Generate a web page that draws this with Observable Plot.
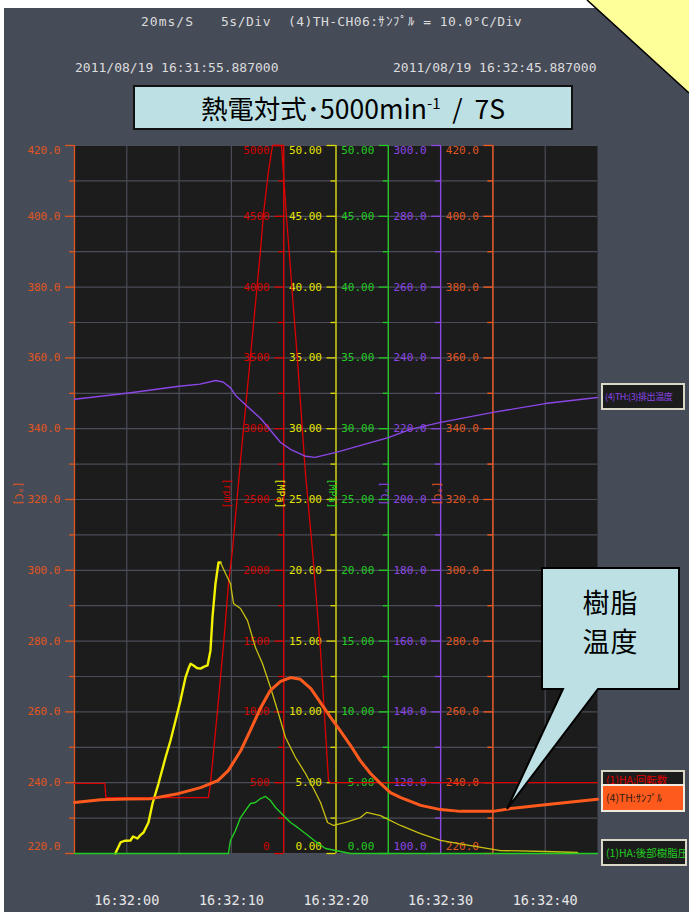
<!DOCTYPE html>
<html><head><meta charset="utf-8">
<script src="https://cdn.jsdelivr.net/npm/d3@7"></script>
<script src="https://cdn.jsdelivr.net/npm/@observablehq/plot@0.6"></script>
<style>
html,body{margin:0;padding:0;background:#fff;}
#page{position:relative;width:689px;height:912px;overflow:hidden;background:#fff;}
#slate{position:absolute;left:4px;top:8px;width:685px;height:904px;background:#464b58;}
.hdr{position:absolute;font-family:"DejaVu Sans Mono",monospace;font-size:13px;color:#dcdcdc;white-space:pre;line-height:16px;}
#title{position:absolute;left:133px;top:85px;width:436px;height:41px;background:#bde0e4;border:2px solid #111;
  font-family:"Noto Sans CJK JP","Noto Sans",sans-serif;font-size:26.5px;color:#000;text-align:center;line-height:41px;white-space:nowrap;}
#title sup{font-size:15px;vertical-align:0;position:relative;top:-10px;}
.leg{position:absolute;box-sizing:border-box;border:2px solid #d9d8c6;background:#1c1c1c;overflow:hidden;white-space:nowrap;
  font-family:"Noto Sans CJK JP",sans-serif;font-size:10.5px;padding-left:3px;}
.callout{position:absolute;left:542px;width:137px;text-align:center;font-family:"Noto Sans CJK JP",sans-serif;
  font-size:27px;line-height:39px;height:39px;color:#000;letter-spacing:1px;}
svg.layer{position:absolute;left:0;top:0;}
</style></head>
<body><div id="page"><div id="slate"></div></div>
<script>
// ---------- data ----------
const timeTicks = [5, 15, 25, 35, 45];
const timeLabels = ["16:32:00", "16:32:10", "16:32:20", "16:32:30", "16:32:40"];
const tempTicks = [220, 240, 260, 280, 300, 320, 340, 360, 380, 400, 420];
const tempMinor = [230, 250, 270, 290, 310, 330, 350, 370, 390, 410];
const rpmTicks = [0, 500, 1000, 1500, 2000, 2500, 3000, 3500, 4000, 4500, 5000];
const rpmMinor = [250, 750, 1250, 1750, 2250, 2750, 3250, 3750, 4250, 4750];
const mpaTicks = [0, 5, 10, 15, 20, 25, 30, 35, 40, 45, 50];
const mpaMinor = [2.5, 7.5, 12.5, 17.5, 22.5, 27.5, 32.5, 37.5, 42.5, 47.5];
const exTicks = [100, 120, 140, 160, 180, 200, 220, 240, 260, 280, 300];
const exMinor = [110, 130, 150, 170, 190, 210, 230, 250, 270, 290];

// [seconds from 16:31:55.887, value]
const rpm = [[0,495],[2.9,495],[3.0,395],[12.8,395],[13.0,494],[13.67,1010],[14.34,1554],[14.72,1907],[15.1,2140],[15.87,2775],[16.83,3517],[17.78,4258],[18.07,4520],[18.55,4823],[18.93,5000],[19.79,5000],[20.27,4491],[21.32,3481],[22.08,2684],[22.75,2140],[23.52,1434],[24.28,516],[24.5,500],[50,500]];
const resinPressure = [[3.9,0],[4.4,0.78],[4.8,0.9],[5.35,0.92],[5.6,1.2],[6.02,1.06],[6.3,1.3],[6.6,1.48],[7.07,2.19],[7.46,3.53],[8.03,4.94],[8.7,6.78],[9.18,7.98],[9.66,9.39],[10.13,10.81],[10.61,12.43],[10.9,13.06],[11.1,13.4],[11.38,13.28],[11.7,13.1],[12.05,13.06],[12.4,13.2],[12.72,13.28],[13.0,14.34],[13.19,16.67],[13.48,19.07],[13.77,20.55],[13.96,20.55],[14.44,19.77],[14.91,19.07],[15.2,17.66],[15.87,17.3],[16.54,16.45],[17.3,14.55],[17.97,13.42],[18.74,11.72],[19.5,9.89],[20.17,8.19],[21.13,6.78],[22.08,5.65],[22.85,4.59],[23.52,3.6],[24.19,2.19],[24.76,1.98],[25.91,2.19],[27.34,2.54],[27.92,2.9],[29.25,2.68],[31.17,1.98],[33.08,1.41],[34.99,0.92],[37.86,0.56],[40.73,0.21],[45.03,0.14],[48.09,0.07]];
const rearPressure = [[0,0],[14.72,0],[14.91,0.92],[15.39,1.62],[15.87,2.54],[16.35,3.04],[16.83,3.53],[17.3,3.6],[17.78,3.88],[18.26,4.03],[18.74,3.74],[19.22,3.25],[19.98,2.68],[20.65,2.19],[21.32,1.84],[22.08,1.41],[23.04,0.85],[24.0,0.35],[24.95,0.21],[25.91,0.07],[26.39,0],[50,0]];
const exhaustTemp = [[0,228.3],[5,230.0],[10,232.0],[12,232.6],[13.5,233.6],[14.2,233.2],[14.9,231.6],[15.4,229.4],[16.4,226.6],[17.8,222.9],[19.7,216.1],[20.7,214.1],[22.1,212.2],[23,211.9],[25,213.3],[30,217.5],[32.1,219.8],[35,221.8],[40,224.6],[45,227.1],[50,228.8]];
const resinTemp = [[0,234.4],[2.5,235.2],[5,235.4],[7.3,235.5],[9.9,236.9],[12.05,238.6],[13.7,240.6],[14.7,243.4],[15.9,249.1],[16.8,254.7],[17.8,261.2],[18.7,266.0],[19.7,268.6],[20.65,269.7],[21.6,269.2],[22.6,266.6],[23.5,262.7],[24.5,258.4],[25.4,254.7],[26.4,250.5],[27.3,246.3],[28.3,242.6],[29.25,239.8],[30.2,237.2],[31.2,235.8],[33.1,233.6],[35,232.4],[36.9,231.9],[40,231.9],[41.7,232.7],[45,233.8],[50,235.3]];

// ---------- styling ----------
const GRID = "#4a4d57";
const OR_AX = "#e0561e", OR_LINE = "#ff5a1e";
const RED = "#e00000", RED_TX = "#d40000";
const YEL = "#dede00", YEL_TX = "#e4e400";
const GRN = "#22cc22";
const PUR = "#8c46e6";

const page = document.getElementById("page");

function layer(yDomain, marks) {
  const svg = Plot.plot({
    width: 689, height: 912,
    marginTop: 145, marginRight: 92, marginBottom: 59, marginLeft: 74,
    x: {domain: [0, 50], axis: null},
    y: {domain: yDomain, axis: null},
    style: {background: "transparent", overflow: "visible", fontFamily: "DejaVu Sans Mono", fontSize: "11px"},
    marks
  });
  svg.classList.add("layer");
  page.appendChild(svg);
}

function axisMarks(t, majors, minors, fmt, color, textColor, unit) {
  const mid = majors.slice(1, -1);
  const common = {x: () => t, y: d => d, text: fmt, textAnchor: "end", dx: -14, fill: textColor};
  return [
    Plot.ruleX([t], {stroke: color, strokeWidth: 1.3}),
    Plot.ruleY(majors, {y: d => d, x1: t - 0.86, x2: t, stroke: color, strokeWidth: 1.3}),
    Plot.ruleY(minors, {y: d => d, x1: t - 0.48, x2: t, stroke: color, strokeWidth: 1.3}),
    Plot.text(mid, common),
    Plot.text([majors[majors.length - 1]], {...common, lineAnchor: "top", dy: 1}),
    Plot.text([majors[0]], {...common, lineAnchor: "bottom", dy: -4}),
    Plot.text([unit], {x: () => t, text: d => d, rotate: 90, dx: -56, dy: -6, fill: textColor, fontSize: 10})
  ];
}

const line = (data, opts) => Plot.line(data, {x: d => d[0], y: d => d[1], strokeLinejoin: "round", ...opts});

// base layer: background, grid, left temperature axis, time labels
layer([220, 420], [
  Plot.frame({fill: "#1c1c1c", stroke: null}),
  Plot.ruleY(d3.range(220, 421, 10), {y: d => d, stroke: GRID, strokeWidth: 1.2}),
  Plot.ruleX(d3.range(5, 50, 5), {x: d => d, stroke: GRID, strokeWidth: 1.2}),
  ...axisMarks(0, tempTicks, tempMinor, d3.format(".1f"), OR_AX, OR_AX, "[°C]"),
  Plot.text(timeTicks, {x: d => d, text: (d, i) => timeLabels[i], frameAnchor: "bottom", dy: 51,
    fill: "#e6e6e6", fontSize: 13.5}),
]);

// rpm layer
layer([0, 5000], [
  ...axisMarks(20, rpmTicks, rpmMinor, d3.format("d"), RED, RED_TX, "[rpm]"),
]);
// resin pressure (yellow)
layer([0, 50], [
  ...axisMarks(25, mpaTicks, mpaMinor, d3.format(".2f"), YEL, YEL_TX, "[MPa]"),
]);
// rear pressure (green)
layer([0, 50], [
  ...axisMarks(30, mpaTicks, mpaMinor, d3.format(".2f"), GRN, GRN, "[MPa]"),
]);
// exhaust temp (purple)
layer([100, 300], [
  ...axisMarks(35, exTicks, exMinor, d3.format(".1f"), PUR, PUR, "[°C]"),
]);
// inner orange axis
layer([220, 420], [
  ...axisMarks(40, tempTicks, tempMinor, d3.format(".1f"), OR_LINE, OR_AX, "[°C]"),
]);

// series
layer([0, 5000], [line(rpm, {stroke: "#dd0000", strokeWidth: 1.3})]);
layer([0, 50], [
  line(resinPressure, {filter: d => d[0] <= 13.96, stroke: "#f2f200", strokeWidth: 2.4}),
  line(resinPressure, {filter: d => d[0] >= 13.96, stroke: "#c8c010", strokeWidth: 1.3}),
]);
layer([0, 50], [line(rearPressure, {stroke: GRN, strokeWidth: 1.4})]);
layer([100, 300], [line(exhaustTemp, {stroke: PUR, strokeWidth: 1.4})]);
layer([220, 420], [line(resinTemp, {stroke: OR_LINE, strokeWidth: 3})]);

// ---------- header & annotations ----------
function addDiv(cls, style, html) {
  const d = document.createElement("div");
  if (cls) d.className = cls;
  Object.assign(d.style, style);
  d.innerHTML = html;
  page.appendChild(d);
  return d;
}
addDiv("hdr", {left: "141px", top: "14px", letterSpacing: "1px"}, "20ms/S");
addDiv("hdr", {left: "221px", top: "14px", letterSpacing: "0.5px"}, "5s/Div");
addDiv("hdr", {left: "288px", top: "14px", letterSpacing: "0.4px"}, "(4)TH-CH06:ｻﾝﾌﾟﾙ = 10.0°C/Div");
addDiv("hdr", {left: "75px", top: "60px"}, "2011/08/19 16:31:55.887000");
addDiv("hdr", {left: "393px", top: "60px"}, "2011/08/19 16:32:45.887000");
const title = document.createElement("div");
title.id = "title";
title.innerHTML = "熱電対式･5000min<sup>-1</sup>&nbsp;&nbsp;/&nbsp;&nbsp;7S";
page.appendChild(title);

// legend tags at right
addDiv("leg", {left: "601px", top: "383px", width: "84px", height: "27px", color: PUR, lineHeight: "23px",
  fontSize: "9px", letterSpacing: "-0.4px", paddingLeft: "2px"}, "(4)TH:(3)排出温度");
addDiv("leg", {left: "601px", top: "770px", width: "84px", height: "20px", color: "#e00000", lineHeight: "16px"}, "(1)HA:回転数");
addDiv("leg", {left: "601px", top: "784px", width: "84px", height: "28px", color: "#2a1a10", lineHeight: "24px",
  background: "#ff5a1e", borderColor: "#ecebe0"}, "(4)TH:ｻﾝﾌﾟﾙ");
addDiv("leg", {left: "601px", top: "839px", width: "86px", height: "27px", color: GRN, lineHeight: "23px"}, "(1)HA:後部樹脂圧");

// decorative shapes (note corner, callout)
const ns = "http://www.w3.org/2000/svg";
const deco = document.createElementNS(ns, "svg");
deco.setAttribute("width", 689); deco.setAttribute("height", 912);
deco.setAttribute("class", "layer");
deco.innerHTML = `
  <polygon points="587,0 689,0 689,93" fill="#ffff9a"/>
  <line x1="587" y1="0" x2="689" y2="93" stroke="#000" stroke-width="1.6"/>
  <path d="M542,568 H679 V689 H598 L507,809 L563,689 H542 Z" fill="#bde0e4" stroke="#000" stroke-width="2" stroke-linejoin="miter"/>`;
page.appendChild(deco);
addDiv("callout", {top: "582px"}, "樹脂");
addDiv("callout", {top: "621px"}, "温度");
</script>
</body></html>
